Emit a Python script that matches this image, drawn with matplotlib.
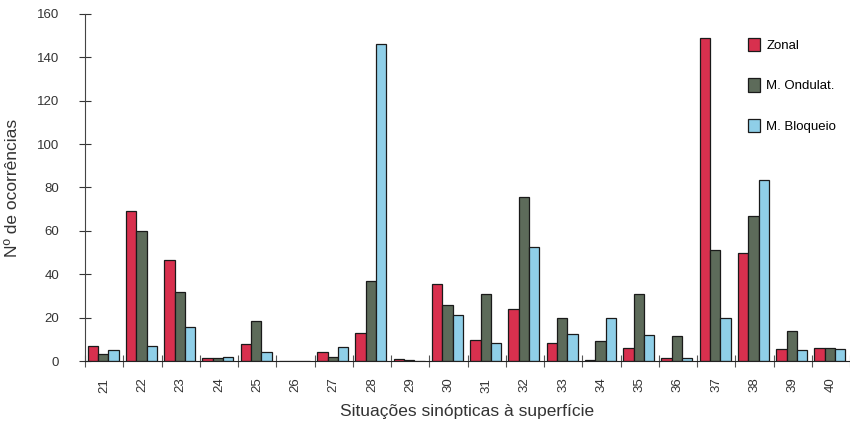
import numpy as np
import matplotlib
matplotlib.use("Agg")
import matplotlib.pyplot as plt
from matplotlib.patches import Patch

plt.rcParams['font.family'] = ['Liberation Sans', 'DejaVu Sans']

situacoes = [str(n) for n in range(21, 41)]
zonal    = [7, 69, 46.5, 1.5, 8, 0, 4, 13, 1, 35.5, 9.5, 24, 8.5, 0.3, 6, 1.5, 149, 50, 5.5, 6]
ondulat  = [3, 60, 32, 1.5, 18.5, 0, 2, 37, 0.3, 26, 31, 75.5, 20, 9, 31, 11.5, 51, 67, 14, 6]
bloqueio = [5, 7, 15.5, 2, 4, 0, 6.5, 146, 0, 21, 8.5, 52.5, 12.5, 20, 12, 1.5, 20, 83.5, 5, 5.5]
series_names = ['Zonal', 'M. Ondulat.', 'M. Bloqueio']
cores = ['#d8304e', '#5d6b5a', '#8fcfe8']

fig = plt.figure(figsize=(8.5, 4.29), dpi=100)
ax = fig.add_axes([0.1, 0.1585, 0.9, 0.809])

x = np.arange(len(situacoes))
w = 0.27
off = 0.07
for i, vals in enumerate([zonal, ondulat, bloqueio]):
    ax.bar(x + off + i * w, vals, width=w, align='edge', color=cores[i],
           edgecolor='#1a1a1a', linewidth=0.9)

ax.set_xlim(0, 20)
ax.set_ylim(0, 160)
ax.spines['top'].set_visible(False)
ax.spines['right'].set_visible(False)
ax.spines['left'].set_color('#444444')
ax.spines['bottom'].set_color('#222222')

ax.set_yticks(np.arange(0, 161, 20))
ax.tick_params(axis='y', direction='inout', length=9, width=0.8, labelsize=9.5, colors='#333333', pad=14)
ax.set_xticks(np.arange(0, 21), minor=True)
ax.set_xticks(x + 0.5)
ax.set_xticklabels(situacoes, rotation=90)
ax.tick_params(axis='x', which='major', length=0, labelsize=9.5, pad=12, colors='#333333')
ax.tick_params(axis='x', which='minor', direction='inout', length=8, width=0.8, colors='#555555')

ax.set_xlabel('Situações sinópticas à superfície', fontsize=12.5, color='#333333', labelpad=8)
ax.set_ylabel('Nº de ocorrências', fontsize=12.5, color='#333333', labelpad=12)

handles = [Patch(facecolor=c, edgecolor='#1a1a1a', linewidth=0.9) for c in cores]
fig.legend(handles, series_names, loc='upper left', bbox_to_anchor=(0.866, 0.94),
           frameon=False, fontsize=9.5, handlelength=0.9, handleheight=1.2,
           handletextpad=0.5, labelspacing=2.0)

fig.savefig('out.png', dpi=100)
